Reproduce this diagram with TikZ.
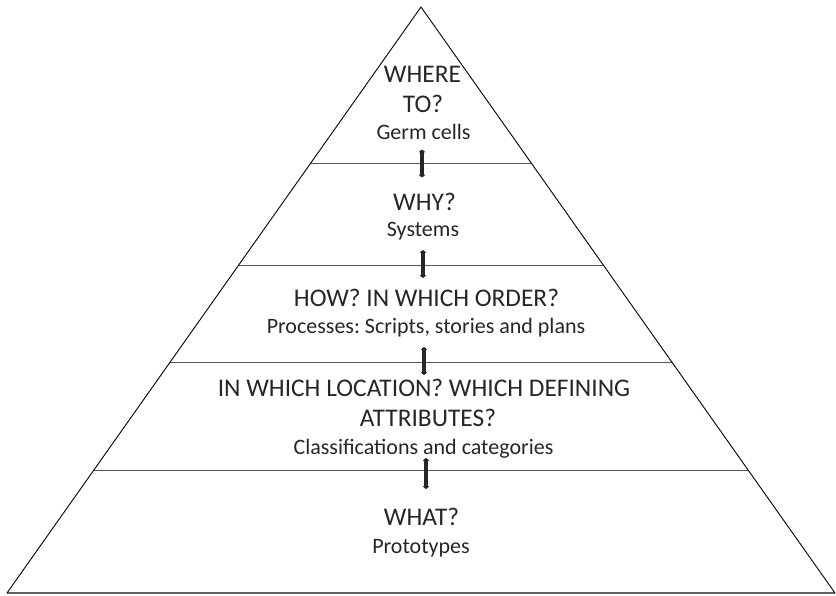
\documentclass[tikz,border=0pt]{standalone}
\usepackage{fontspec}
\setmainfont{Carlito}
\frenchspacing
\usetikzlibrary{arrows.meta,calc}
\definecolor{txt}{HTML}{262626}
\tikzset{
  side/.style={draw=black,line width=0.9pt,line join=miter},
  divider/.style={draw=black!65,line width=1pt},
  baseline/.style={draw=black!62,line width=2.2pt},
  title/.style={anchor=base,inner sep=0pt,text=txt,font=\fontsize{25.4}{30}\selectfont},
  sub/.style={anchor=base,inner sep=0pt,text=txt,font=\fontsize{22}{26}\selectfont},
  link/.style={draw=txt,line width=3.6pt,{Stealth[round,length=3pt,width=7pt,inset=0pt]}-{Stealth[round,length=3pt,width=7pt,inset=0pt]}}
}
\begin{document}
\begin{tikzpicture}[x=1pt,y=-1pt]
\useasboundingbox (0,0) rectangle (836,595);
\coordinate (apex) at (421,7);
\coordinate (bl) at (7,593);
\coordinate (br) at (835,593);
% dividers
\foreach \t/\n in {0.2679/1,0.4403/2,0.6058/3,0.7918/4}{
  \coordinate (l\n) at ($(apex)!\t!(bl)$);
  \coordinate (r\n) at ($(apex)!\t!(br)$);
}
\draw[divider] (l1) -- (r1);
\draw[divider] (l2) -- (r2);
\draw[divider] (l3) -- (r3);
\draw[divider] (l4) -- (r4);
\draw[baseline] (bl) -- (br);
\draw[side] (bl) -- (apex) -- (br);
% texts
\node[title] (t1a) at (422.5,82) {WHERE};
\node[title] (t1b) at (423,112) {TO?};
\node[sub] (s1) at (423.5,139.5) {Germ cells};
\node[title] (t2) at (424.5,210) {WHY?};
\node[sub] (s2) at (423,236) {Systems};
\node[title] (t3) at (426.5,306.5) {HOW? IN WHICH ORDER?};
\node[sub] (s3) at (426,333.5) {Processes: Scripts, stories and plans};
\node[title] (t4a) at (424,396) {IN WHICH LOCATION? WHICH DEFINING};
\node[title] (t4b) at (428,426) {ATTRIBUTES?};
\node[sub] (s4) at (423.5,454) {Classifications and categories};
\node[title] (t5) at (421.6,525) {WHAT?};
\node[sub] (s5) at (421,553) {Prototypes};
% arrows
\coordinate (a1t) at (422,149.5); \coordinate (a1b) at (422,177.5);
\coordinate (a2t) at (423,250); \coordinate (a2b) at (423,278);
\coordinate (a3t) at (424,347); \coordinate (a3b) at (424,375);
\coordinate (a4t) at (426,458); \coordinate (a4b) at (426,489);
\draw[link] (a1t) -- (a1b);
\draw[link] (a2t) -- (a2b);
\draw[link] (a3t) -- (a3b);
\draw[link] (a4t) -- (a4b);
\end{tikzpicture}
\end{document}
